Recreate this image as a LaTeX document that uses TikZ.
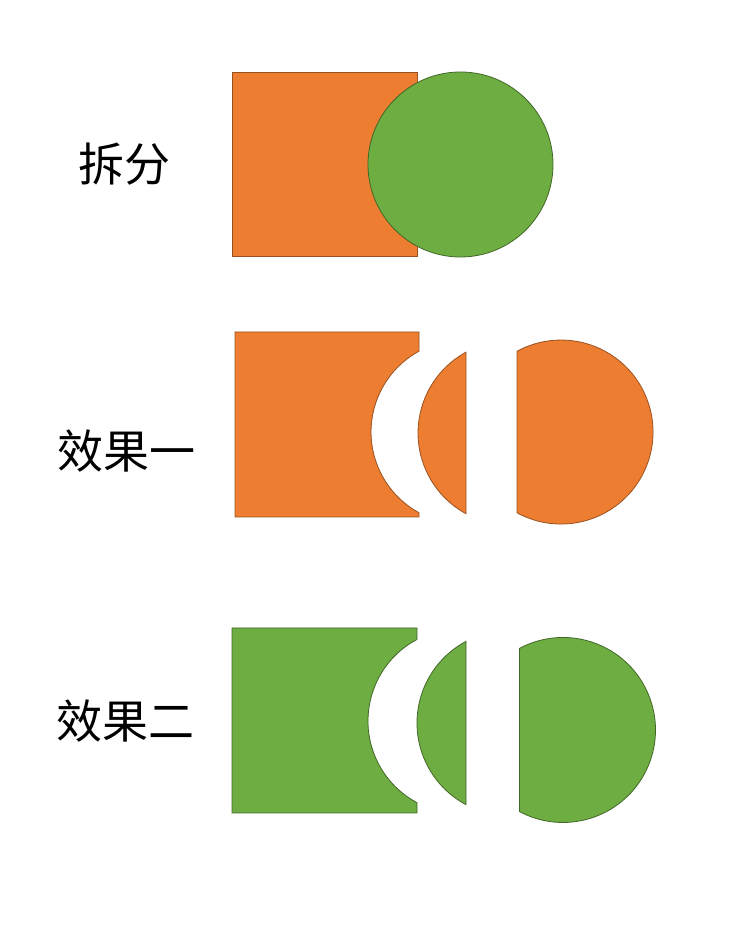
\documentclass[tikz,border=0pt]{standalone}
\usepackage{fontspec}
\newfontfamily\cjk{Noto Sans CJK SC}
\usepackage{tikz}
\definecolor{partorange}{HTML}{ED7D31}
\definecolor{partgreen}{HTML}{6EAD42}
\tikzstyle{orangepart} = [fill=partorange, draw=partorange!65!black, line width=0.8pt]
\tikzstyle{greenpart}  = [fill=partgreen, draw=partgreen!60!black, line width=0.8pt]
\tikzstyle{caption}    = [font=\cjk\fontsize{46pt}{50pt}\selectfont, inner sep=0pt]

\begin{document}
\begin{tikzpicture}[x=1pt, y=1pt]
    \useasboundingbox [fill=white] (0,0) rectangle (742,942);

    % captions
    \node (split)   [caption] at (124.5,778) {拆分};
    \node (effect1) [caption] at (126,490.5) {效果一};
    \node (effect2) [caption] at (125,221)   {效果二};

    % split: square with circle on top
    \draw [orangepart] (232,686) rectangle (417,870);
    \draw [greenpart]  (460.5,777.5) circle [radius=92.5];

    % effect one
    \draw [orangepart] (235,610) -- (419,610) -- (419,590.8)
        arc [start angle=118.6, end angle=241.4, radius=92] -- (419,425) -- (235,425) -- cycle;
    \draw [orangepart] (466,589.8)
        arc [start angle=118.6, end angle=241.4, radius=92] -- cycle;
    \draw [orangepart] (517,590.8) -- (517,429.2)
        arc [start angle=241.4, end angle=478.6, radius=92] -- cycle;

    % effect two
    \draw [greenpart] (232,314) -- (417,314) -- (417,302.6)
        arc [start angle=118.05, end angle=241.95, radius=92.5] -- (417,129) -- (232,129) -- cycle;
    \draw [greenpart] (466,300.6)
        arc [start angle=118.05, end angle=241.95, radius=92.5] -- cycle;
    \draw [greenpart] (519.5,293.6) -- (519.5,130.4)
        arc [start angle=241.95, end angle=478.05, radius=92.5] -- cycle;
\end{tikzpicture}
\end{document}
